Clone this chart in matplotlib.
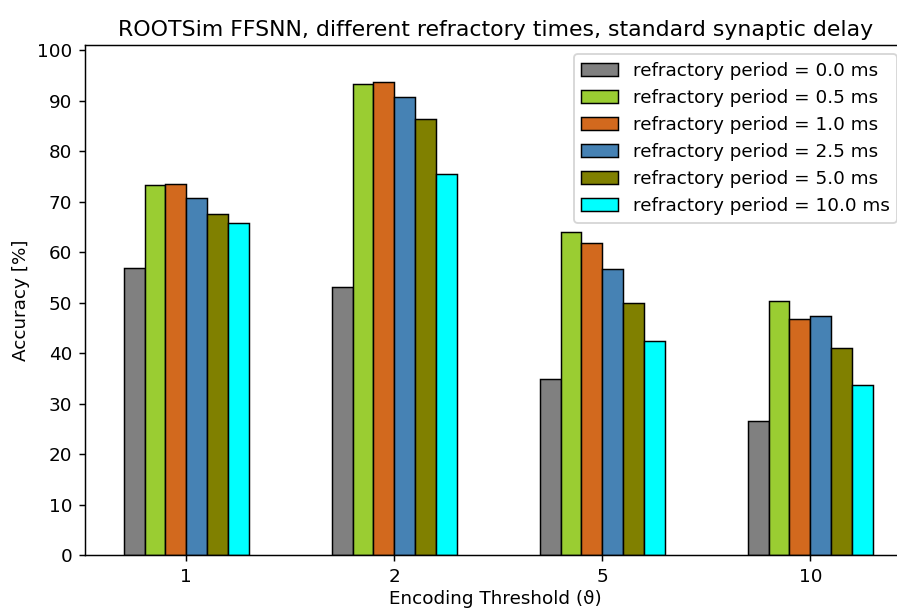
import numpy as np
import matplotlib
matplotlib.use("Agg")
import matplotlib.pyplot as plt

thresholds = ["1", "2", "5", "10"]
refractory_labels = ["refractory period = 0.0 ms", "refractory period = 0.5 ms",
                     "refractory period = 1.0 ms", "refractory period = 2.5 ms",
                     "refractory period = 5.0 ms", "refractory period = 10.0 ms"]
acc_0_0 = [56.8, 53.1, 34.8, 26.6]
acc_0_5 = [73.3, 93.2, 64.0, 50.4]
acc_1_0 = [73.5, 93.7, 61.7, 46.8]
acc_2_5 = [70.7, 90.8, 56.7, 47.3]
acc_5_0 = [67.5, 86.3, 49.9, 40.9]
acc_10_0 = [65.7, 75.5, 42.3, 33.6]
colors = ["grey", "yellowgreen", "chocolate", "steelblue", "olive", "cyan"]

series = [acc_0_0, acc_0_5, acc_1_0, acc_2_5, acc_5_0, acc_10_0]

dpi = 132
fig = plt.figure(figsize=(897 / dpi, 610 / dpi), dpi=dpi)
ax = fig.add_axes([85 / 897, 1 - 555 / 610, (906 - 85) / 897, (555 - 45) / 610])

x = np.arange(len(thresholds))
width = 0.1
for i, (vals, lab, col) in enumerate(zip(series, refractory_labels, colors)):
    offset = (i - (len(series) - 1) / 2) * width
    ax.bar(x + offset, vals, width, label=lab, color=col, edgecolor="black",
           linewidth=0.8)

ax.set_xticks(x)
ax.set_xticklabels(thresholds)
ax.set_xlim(-0.486, 3.46)
ax.set_ylim(0, 101)
ax.set_yticks(np.arange(0, 101, 10))
ax.set_xlabel("Encoding Threshold (ϑ)", labelpad=2)
ax.set_ylabel("Accuracy [%]")
ax.set_title("ROOTSim FFSNN, different refractory times, standard synaptic delay",
             pad=5)
ax.legend(loc="upper right")

fig.savefig("out.png", dpi=dpi)
